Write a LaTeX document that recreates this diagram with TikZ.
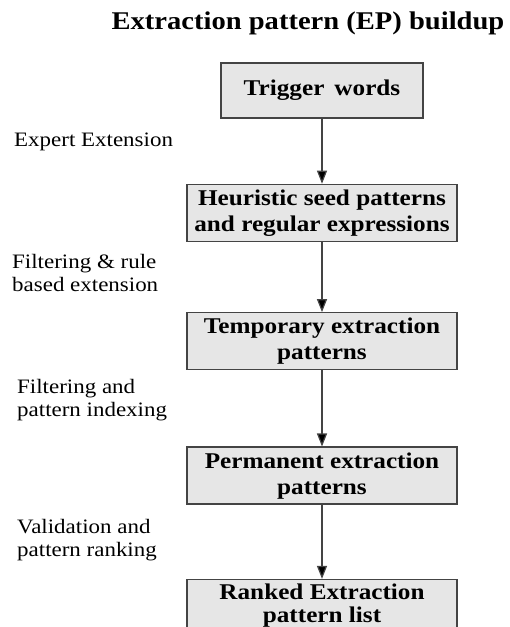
\documentclass[tikz,border=0pt]{standalone}
\usepackage{fontspec}
\setmainfont{Liberation Serif}
\newfontfamily\widefont[FakeStretch=1.12]{Liberation Serif}
\usepackage{xcolor}
\usetikzlibrary{arrows.meta, positioning}

\definecolor{boxfill}{HTML}{E6E6E6}
\definecolor{boxline}{HTML}{444444}

\begin{document}
\begin{tikzpicture}[
        x=1pt, y=1pt,
        node distance=66pt,
        box/.style={
            draw=boxline,
            fill=boxfill,
            line width=1.4pt,
            align=center,
            minimum width=270pt,
            minimum height=57pt,
            inner sep=2pt,
            font=\widefont\bfseries\fontsize{22.5}{26}\selectfont
        },
        step label/.style={
            anchor=west,
            align=left,
            inner sep=0pt,
            font=\widefont\fontsize{20.5}{23.5}\selectfont
        },
        arrow/.style={
            draw=boxline,
            line width=1.2pt,
            -{Triangle[length=13pt, width=10pt, fill=black]}
        }
    ]

    \useasboundingbox (0,0) rectangle (510,627);
    \clip (0,0) rectangle (510,627);

    % Title
    \node[font=\widefont\bfseries\fontsize{25.5}{30}\selectfont] (title) at (308,604)
        {Extraction pattern (EP) buildup};

    % Main chain
    \node[box, minimum width=202pt, minimum height=55pt] (trigger) at (322,536.5)
        {Trigger\, words};

    \node[box, below=65pt of trigger] (seed) {
        Heuristic seed patterns\\
        and regular expressions
    };

    \node[box, below=70pt of seed] (temporary) {
        Temporary extraction\\
        patterns
    };

    \node[box, below=76pt of temporary] (permanent) {
        Permanent extraction\\
        patterns
    };

    % bottom box runs off the page, as in the original
    \node[box, below=74pt of permanent, anchor=north, minimum height=60pt,
          text depth=12pt,
          font=\widefont\bfseries\fontsize{22.5}{23}\selectfont] (ranked) {
        Ranked Extraction\\
        pattern list
    };

    % Arrows
    \draw[arrow] (trigger) -- (seed);
    \draw[arrow] (seed) -- (temporary);
    \draw[arrow] (temporary) -- (permanent);
    \draw[arrow] (permanent) -- (ranked);

    % Step labels on the left
    \node[step label] (expert) at (14,485) {Expert Extension};
    \node[step label] (rulebased) at (12,354) {Filtering \& rule\\based extension};
    \node[step label] (indexing) at (17,227) {Filtering and\\pattern indexing};
    \node[step label] (validation) at (17,87) {Validation and\\pattern ranking};

\end{tikzpicture}
\end{document}
